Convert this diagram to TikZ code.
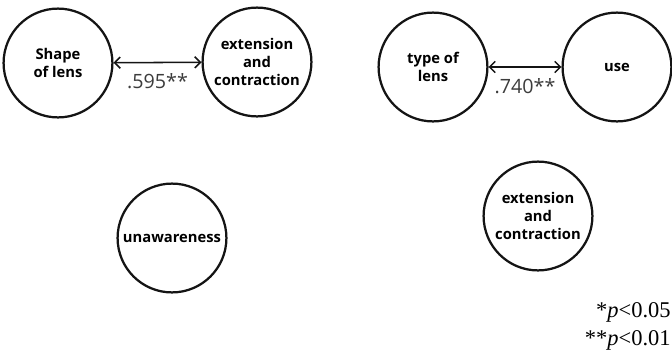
\documentclass[tikz,border=0pt]{standalone}
\usepackage{fontspec}
\setmainfont{Liberation Serif}
\newfontfamily\labelfont{Open Sans}
\usepackage{tikz}
\usetikzlibrary{arrows.meta, positioning}
\definecolor{mydark}{RGB}{20,20,20}
\definecolor{mygray}{RGB}{60,60,60}
\tikzset{
  varnode/.style={circle, draw=mydark, fill=white, line width=1.6pt,
    minimum size=2.72cm, inner sep=0pt, align=center,
    font=\labelfont\bfseries\fontsize{10.5}{13}\selectfont},
  corrarrow/.style={{Straight Barb[length=4pt,width=8pt]}-{Straight Barb[length=4pt,width=8pt]},
    line width=1.1pt, color=mydark},
  coeff/.style={font=\labelfont\fontsize{14}{16}\selectfont, text=mygray},
  note/.style={font=\fontsize{16}{18}\selectfont, anchor=base east, inner sep=0pt}
}
\begin{document}
\begin{tikzpicture}[x=0.025cm, y=-0.025cm]
  \useasboundingbox (0,0) rectangle (672,350);
  % left pair
  \node[varnode] (shape) at (58,63) {Shape\\of lens};
  \node[varnode] (ext1) at (257,62) {extension\\and\\contraction};
  \draw[corrarrow] (shape) -- (ext1) node[coeff, midway, below=4pt] {.595**};
  \node[varnode] (unaware) at (172,238) {unawareness};
  % right pair
  \node[varnode] (type) at (433,67) {type of\\lens};
  \node[varnode] (use) at (617,67) {use};
  \draw[corrarrow] (type) -- (use) node[coeff, midway, below=4pt] {.740**};
  \node[varnode] (ext2) at (538,216) {extension\\and\\contraction};
  % significance
  \node[note] (p05) at (671,317) {*\textit{p}<0.05};
  \node[note] (p01) at (671,345) {**\textit{p}<0.01};
\end{tikzpicture}
\end{document}
